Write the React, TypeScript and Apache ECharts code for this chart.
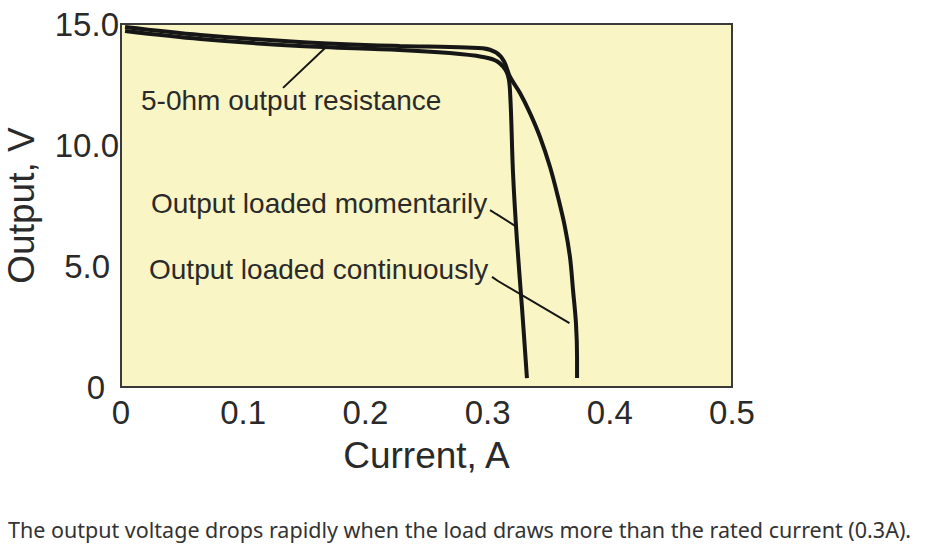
import React, { useEffect, useRef } from "react";
import * as echarts from "echarts";

// Current (A) vs output voltage (V)
const momentaryCurrent = [0.0033, 0.065, 0.146, 0.228, 0.269, 0.296, 0.308, 0.3159, 0.3183, 0.3208, 0.324, 0.3281, 0.3322];
const momentaryVoltage = [14.71, 14.38, 14.09, 13.93, 13.8, 13.64, 13.45, 12.98, 12.27, 8.84, 6.07, 3.31, 0.37];

const continuousCurrent = [0.0033, 0.065, 0.146, 0.228, 0.269, 0.296, 0.307, 0.3135, 0.3183, 0.3265, 0.3347, 0.3429, 0.3511, 0.3576, 0.3633, 0.3674, 0.3699, 0.3723, 0.3732, 0.3732];
const continuousVoltage = [14.88, 14.55, 14.26, 14.09, 14.05, 14.0, 13.82, 13.45, 12.82, 12.15, 11.32, 10.33, 9.09, 7.85, 6.61, 5.37, 4.01, 2.64, 1.24, 0.37];

// Leader lines for the annotations (data coordinates)
const resistanceLeaderX = [0.1326, 0.167];
const resistanceLeaderY = [12.36, 14.01];
const momentaryLeaderX = [0.302, 0.307, 0.324];
const momentaryLeaderY = [7.31, 7.15, 6.61];
const continuousLeaderX = [0.3036, 0.3085, 0.367];
const continuousLeaderY = [4.55, 4.38, 2.64];

const xTicks = { min: 0, max: 0.5, interval: 0.1 };
const yTicks = { min: 0, max: 15, interval: 5 };

const zip = (xs: number[], ys: number[]) => xs.map((x, i) => [x, ys[i]]);

export default function App() {
  const ref = useRef<HTMLDivElement>(null);
  useEffect(() => {
    document.body.style.margin = "0";
    const chart = echarts.init(ref.current!, null, { renderer: "svg" });
    const font = "'Liberation Sans', Arial, sans-serif";
    const ink = "#2a2a2a";
    const curveStyle = { color: "#161616", width: 4 };
    const leaderStyle = { color: "#161616", width: 2 };
    const tickFont = { fontFamily: font, fontSize: 33, color: ink };
    chart.setOption({
      animation: false,
      grid: {
        left: 121,
        top: 24,
        right: 210,
        bottom: 166,
        outerBoundsMode: "none",
        containLabel: false,
        show: true,
        backgroundColor: "#f9f5c5",
        borderColor: "#3a3a3a",
        borderWidth: 2,
      },
      xAxis: {
        type: "value",
        min: xTicks.min,
        max: xTicks.max,
        interval: xTicks.interval,
        name: "Current, A",
        nameLocation: "middle",
        nameGap: 50,
        nameTextStyle: { fontFamily: font, fontSize: 37, color: ink },
        axisLine: { show: false },
        axisTick: { show: false },
        splitLine: { show: false },
        axisLabel: {
          ...tickFont,
          margin: 9,
          formatter: (v: number) => (v === 0 ? "0" : v.toFixed(1)),
        },
      },
      yAxis: {
        type: "value",
        min: yTicks.min,
        max: yTicks.max,
        interval: yTicks.interval,
        name: "Output, V",
        nameLocation: "middle",
        nameGap: 81,
        nameRotate: 90,
        nameTextStyle: { fontFamily: font, fontSize: 37, color: ink },
        axisLine: { show: false },
        axisTick: { show: false },
        splitLine: { show: false },
        axisLabel: {
          margin: 1,
          formatter: (v: number) =>
            v === 0 ? "{z|0}" : v === 5 ? "{f|5.0}" : "{t|" + v.toFixed(1) + "}",
          rich: {
            z: { ...tickFont, padding: [0, 15, 0, 0] },
            f: { ...tickFont, padding: [0, 10, 0, 0] },
            t: { ...tickFont, padding: [0, 1, 0, 0] },
          },
        },
      },
      series: [
        { type: "line", data: zip(continuousCurrent, continuousVoltage), smooth: 0.35, symbol: "none", lineStyle: curveStyle },
        { type: "line", data: zip(momentaryCurrent, momentaryVoltage), smooth: 0.35, symbol: "none", lineStyle: curveStyle },
        { type: "line", data: zip(resistanceLeaderX, resistanceLeaderY), symbol: "none", lineStyle: leaderStyle },
        { type: "line", data: zip(momentaryLeaderX, momentaryLeaderY), symbol: "none", lineStyle: leaderStyle },
        { type: "line", data: zip(continuousLeaderX, continuousLeaderY), symbol: "none", lineStyle: leaderStyle },
      ],
      graphic: [
        { type: "text", left: 141, top: 86, style: { text: "5-0hm output resistance", fontFamily: font, fontSize: 28, fill: ink } },
        { type: "text", left: 151, top: 189, style: { text: "Output loaded momentarily", fontFamily: font, fontSize: 28, fill: ink } },
        { type: "text", left: 149, top: 255, style: { text: "Output loaded continuously", fontFamily: font, fontSize: 28, fill: ink } },
        { type: "text", left: 8, top: 518, style: { text: "The output voltage drops rapidly when the load draws more than the rated current (0.3A).", fontFamily: "'Noto Sans', sans-serif", fontSize: 21.5, fill: "#333333" } },
      ],
    });
    return () => chart.dispose();
  }, []);
  return <div ref={ref} style={{ width: 942, height: 553 }} />;
}
